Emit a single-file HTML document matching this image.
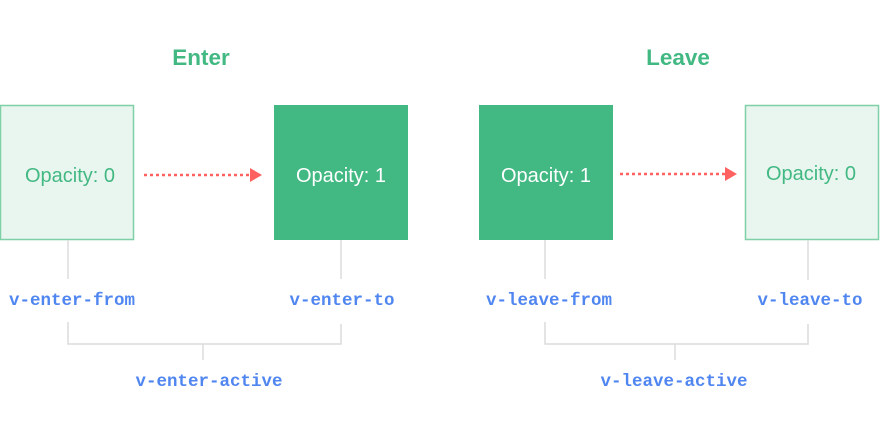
<!DOCTYPE html>
<html><head><meta charset="utf-8"><style>
html,body{margin:0;padding:0;background:#fff;width:880px;height:448px;overflow:hidden}
</style></head><body>
<svg width="880" height="448" xmlns="http://www.w3.org/2000/svg">
<g font-family="Liberation Sans, sans-serif" font-weight="bold" font-size="22.5" fill="#42b883" text-anchor="middle">
<text x="201" y="65">Enter</text>
<text x="678" y="65">Leave</text>
</g>
<rect x="0.5" y="105.5" width="133" height="134" fill="#e9f6ef" stroke="#7fd0a6" stroke-width="1.5"/>
<rect x="274" y="105" width="134" height="135" fill="#42b883"/>
<rect x="479" y="105" width="134" height="135" fill="#42b883"/>
<rect x="745.5" y="105.5" width="133" height="134" fill="#e9f6ef" stroke="#7fd0a6" stroke-width="1.5"/>
<g font-family="Liberation Sans, sans-serif" font-size="20" text-anchor="middle">
<text x="70" y="182" fill="#42b883">Opacity: 0</text>
<text x="341" y="182" fill="#fff">Opacity: 1</text>
<text x="546" y="182" fill="#fff">Opacity: 1</text>
<text x="811" y="180" fill="#42b883">Opacity: 0</text>
</g>
<g stroke="#ff6161" stroke-width="2.5" stroke-dasharray="3,3">
<line x1="144" y1="175" x2="251" y2="175"/>
<line x1="620" y1="174" x2="726" y2="174"/>
</g>
<polygon points="250,168 262,175 250,182" fill="#ff6161"/>
<polygon points="725,167 737,174 725,181" fill="#ff6161"/>
<g stroke="#dcdcdc" stroke-width="1.5" fill="none">
<line x1="68" y1="240" x2="68" y2="279"/>
<line x1="341" y1="240" x2="341" y2="279"/>
<line x1="545" y1="240" x2="545" y2="279"/>
<line x1="808" y1="240" x2="808" y2="280"/>
<polyline points="68,322 68,344 341,344 341,324"/>
<line x1="203" y1="344" x2="203" y2="360"/>
<polyline points="545,322 545,344 808,344 808,324"/>
<line x1="675" y1="344" x2="675" y2="360"/>
</g>
<g font-family="Liberation Mono, monospace" font-weight="bold" font-size="17.5" fill="#5086f0" text-anchor="middle">
<text x="72" y="305">v-enter-from</text>
<text x="342" y="305">v-enter-to</text>
<text x="549" y="305">v-leave-from</text>
<text x="810" y="305">v-leave-to</text>
<text x="209" y="386">v-enter-active</text>
<text x="674" y="386">v-leave-active</text>
</g>
</svg>
</body></html>
